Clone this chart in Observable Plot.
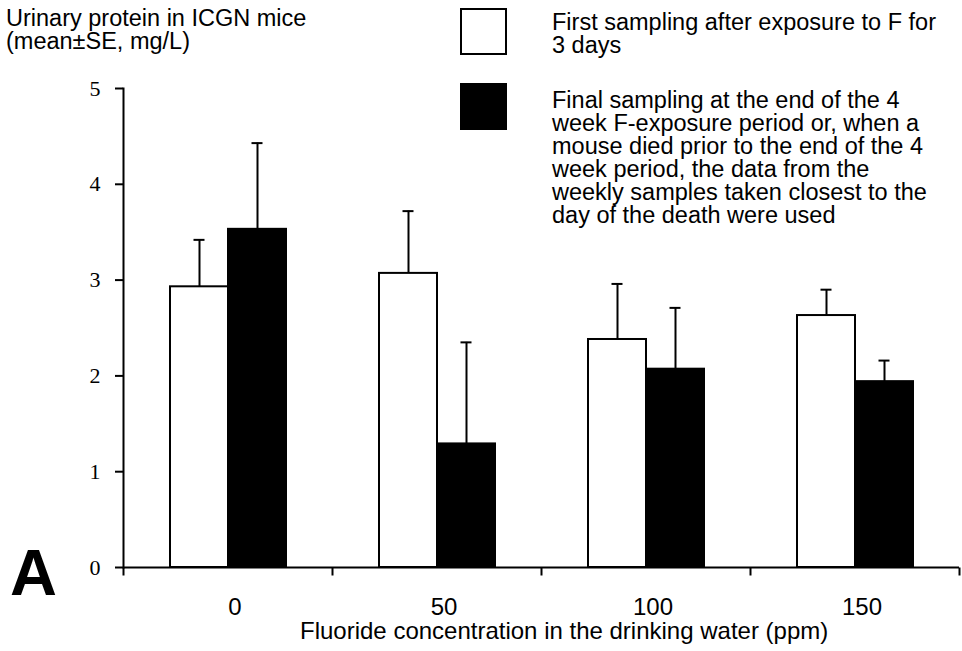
<!DOCTYPE html>
<html><head><meta charset="utf-8">
<script src="https://cdn.jsdelivr.net/npm/d3@7"></script>
<script src="https://cdn.jsdelivr.net/npm/@observablehq/plot@0.6"></script>
<style>
body{margin:0;background:#fff}
#wrap{position:relative;width:962px;height:651px;font-family:"Liberation Sans",Arial,sans-serif;color:#000;overflow:hidden}
#chart{position:absolute;left:0;top:0}
#chart svg [aria-label="y-axis tick label"]{font-family:"Liberation Serif","Times New Roman",serif;font-size:22px}
#chart svg [aria-label="fx-axis tick label"]{font-size:24px}
.t{position:absolute;font-size:23.5px;line-height:23px;white-space:nowrap}
.sw{position:absolute;box-sizing:border-box;width:47px;height:47px;border:2px solid #000}
</style></head><body>
<div id="wrap"><div id="chart"></div></div>
<script>
// ---- data ----
const doses = ["0", "50", "100", "150"];
const seriesKeys = ["first", "final"];
const firstMean = [2.93, 3.07, 2.38, 2.63];
const firstSE   = [0.49, 0.65, 0.58, 0.27];
const finalMean = [3.53, 1.29, 2.07, 1.94];
const finalSE   = [0.90, 1.06, 0.64, 0.22];
const yTicks = [0, 1, 2, 3, 4, 5];
const titleLines = ["Urinary protein in ICGN mice", "(mean±SE, mg/L)"];
const xLabel = "Fluoride concentration in the drinking water (ppm)";
const legendFirst = ["First sampling after exposure to F for", "3 days"];
const legendFinal = ["Final sampling at the end of the 4", "week F-exposure period or, when a", "mouse died prior to the end of the 4", "week period, the data from the", "weekly samples taken closest to the", "day of the death were used"];
const panelLetter = "A";

const rows = doses.flatMap((dose, i) => [
  {dose, series: "first", mean: firstMean[i], se: firstSE[i]},
  {dose, series: "final", mean: finalMean[i], se: finalSE[i]}
]);

const tickMark = {draw(ctx) { ctx.moveTo(0, 0); ctx.lineTo(0, 8); }};

const chart = Plot.plot({
  width: 962, height: 651,
  marginLeft: 122, marginRight: 3, marginTop: 88, marginBottom: 84,
  style: {fontFamily: "'Liberation Sans', Arial, sans-serif", fontSize: "24px", background: "transparent", color: "black"},
  fx: {domain: doses, padding: 0, label: null, axis: null},
  x: {domain: seriesKeys, paddingInner: 0, paddingOuter: 0.775, axis: null},
  y: {domain: [0, 5], axis: null},
  color: {domain: seriesKeys, range: ["white", "black"]},
  marks: [
    Plot.barY(rows, {fx: "dose", x: "series", y: "mean", fill: "series", stroke: "black", strokeWidth: 2}),
    Plot.ruleX(rows, {fx: "dose", x: "series", y1: "mean", y2: d => d.mean + d.se, stroke: "black", strokeWidth: 2}),
    Plot.tickY(rows, {fx: "dose", x: "series", y: d => d.mean + d.se, stroke: "black", strokeWidth: 2, insetLeft: 23.5, insetRight: 23.5}),
    Plot.ruleY([0], {stroke: "black", strokeWidth: 2}),
    Plot.frame({anchor: "left", facetAnchor: "left", stroke: "black", strokeWidth: 2}),
    Plot.dot(doses, {fx: d => d, frameAnchor: "bottom-left", symbol: tickMark, r: 3, fill: "none", stroke: "black", strokeWidth: 2}),
    Plot.dot(doses.slice(-1), {fx: d => d, frameAnchor: "bottom-right", symbol: tickMark, r: 3, fill: "none", stroke: "black", strokeWidth: 2}),
    Plot.axisY({ticks: yTicks, tickFormat: d => String(d), tickSize: 8, tickPadding: 15, strokeWidth: 2, label: null,
      fontFamily: "'Liberation Serif', 'Times New Roman', serif", fontSize: 22}),
    Plot.axisFx({anchor: "bottom", tickSize: 0, tickPadding: 30, label: null, fontSize: 24, dx: 7})
  ]
});
document.getElementById("chart").appendChild(chart);

// ---- overlay texts ----
const wrap = document.getElementById("wrap");
function addText(lines, left, top, extra) {
  const d = document.createElement("div");
  d.className = "t";
  d.style.left = left + "px";
  d.style.top = top + "px";
  if (extra) Object.assign(d.style, extra);
  lines.forEach((ln, i) => { if (i) d.appendChild(document.createElement("br")); d.appendChild(document.createTextNode(ln)); });
  wrap.appendChild(d);
}
function addSwatch(left, top, color) {
  const s = document.createElement("div");
  s.className = "sw";
  s.style.left = left + "px"; s.style.top = top + "px"; s.style.background = color;
  wrap.appendChild(s);
}
addText(titleLines, 6, 7);
addSwatch(460, 8, "white");
addSwatch(460, 83, "black");
addText(legendFirst, 552, 11);
addText(legendFinal, 552, 89);
addText([xLabel], 300, 619, {fontSize: "24px"});
addText([panelLetter], 10, 540, {fontSize: "65px", lineHeight: "65px", fontWeight: "bold"});
</script>
</body></html>
